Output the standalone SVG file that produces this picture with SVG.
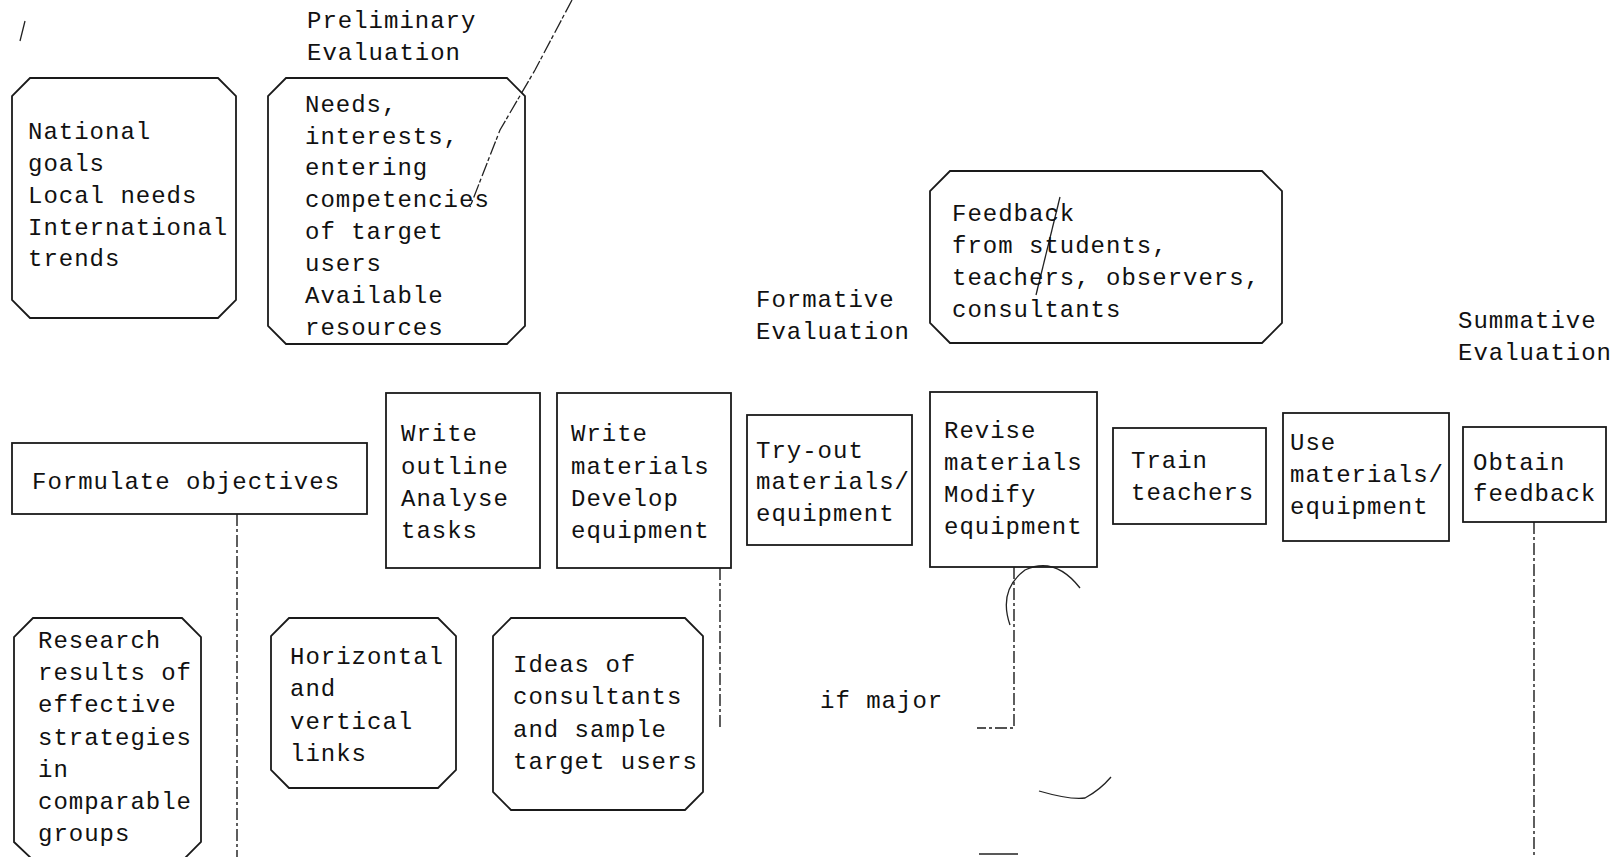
<svg xmlns="http://www.w3.org/2000/svg" width="1621" height="857" viewBox="0 0 1621 857">
<style>
.t{font-family:"Liberation Mono","DejaVu Sans Mono",monospace;font-size:24px;letter-spacing:1px;fill:#111}
.b{fill:none;stroke:#1a1a1a;stroke-width:1.8}
.c{fill:none;stroke:#1a1a1a;stroke-width:1.4;stroke-dasharray:12 3 3 3}
.a{fill:none;stroke:#222;stroke-width:1.3}
</style>
<rect width="1621" height="857" fill="#fff"/>
<g id="artifacts">
<path class="a" d="M25,21 L20,41"/>
<path class="a" d="M572,0 L535,70 L500,130 L470,207" stroke-dasharray="14 3 4 2"/>
<path class="a" d="M1060,197 L1036,295"/>
<path class="a" d="M1010,625 Q998,590 1025,570 Q1055,556 1080,588"/>
<path class="a" d="M1039,791 Q1070,800 1085,798 Q1100,790 1111,777"/>
</g>
<g id="labels">
<text class="t" x="307" y="28">Preliminary</text>
<text class="t" x="307" y="60">Evaluation</text>
<text class="t" x="756" y="307">Formative</text>
<text class="t" x="756" y="339">Evaluation</text>
<text class="t" x="1458" y="328">Summative</text>
<text class="t" x="1458" y="360">Evaluation</text>
<text class="t" x="820" y="708">if major</text>
</g>
<g id="n-national">
<path class="b" d="M30,78 H218 L236,96 V300 L218,318 H30 L12,300 V96 Z"/>
<text class="t" x="28" y="139">National</text>
<text class="t" x="28" y="171">goals</text>
<text class="t" x="28" y="203">Local needs</text>
<text class="t" x="28" y="235">International</text>
<text class="t" x="28" y="266">trends</text>
</g>
<g id="n-preliminary">
<path class="b" d="M286,78 H507 L525,96 V326 L507,344 H286 L268,326 V96 Z"/>
<text class="t" x="305" y="112">Needs,</text>
<text class="t" x="305" y="144">interests,</text>
<text class="t" x="305" y="175">entering</text>
<text class="t" x="305" y="207">competencies</text>
<text class="t" x="305" y="239">of target</text>
<text class="t" x="305" y="271">users</text>
<text class="t" x="305" y="303">Available</text>
<text class="t" x="305" y="335">resources</text>
</g>
<g id="n-feedback">
<path class="b" d="M950,171 H1262 L1282,191 V323 L1262,343 H950 L930,323 V191 Z"/>
<text class="t" x="952" y="221">Feedback</text>
<text class="t" x="952" y="253">from students,</text>
<text class="t" x="952" y="285">teachers, observers,</text>
<text class="t" x="952" y="317">consultants</text>
</g>
<g id="n-formulate">
<rect class="b" x="12" y="443" width="355" height="71"/>
<text class="t" x="32" y="489">Formulate objectives</text>
</g>
<g id="n-outline">
<rect class="b" x="386" y="393" width="154" height="175"/>
<text class="t" x="401" y="441">Write</text>
<text class="t" x="401" y="474">outline</text>
<text class="t" x="401" y="506">Analyse</text>
<text class="t" x="401" y="538">tasks</text>
</g>
<g id="n-write">
<rect class="b" x="557" y="393" width="174" height="175"/>
<text class="t" x="571" y="441">Write</text>
<text class="t" x="571" y="474">materials</text>
<text class="t" x="571" y="506">Develop</text>
<text class="t" x="571" y="538">equipment</text>
</g>
<g id="n-tryout">
<rect class="b" x="747" y="415" width="165" height="130"/>
<text class="t" x="756" y="458">Try-out</text>
<text class="t" x="756" y="489">materials/</text>
<text class="t" x="756" y="521">equipment</text>
</g>
<g id="n-revise">
<rect class="b" x="930" y="392" width="167" height="175"/>
<text class="t" x="944" y="438">Revise</text>
<text class="t" x="944" y="470">materials</text>
<text class="t" x="944" y="502">Modify</text>
<text class="t" x="944" y="534">equipment</text>
</g>
<g id="n-train">
<rect class="b" x="1113" y="428" width="153" height="96"/>
<text class="t" x="1131" y="468">Train</text>
<text class="t" x="1131" y="500">teachers</text>
</g>
<g id="n-use">
<rect class="b" x="1283" y="413" width="166" height="128"/>
<text class="t" x="1290" y="450">Use</text>
<text class="t" x="1290" y="482">materials/</text>
<text class="t" x="1290" y="514">equipment</text>
</g>
<g id="n-obtain">
<rect class="b" x="1463" y="427" width="143" height="95"/>
<text class="t" x="1473" y="470">Obtain</text>
<text class="t" x="1473" y="501">feedback</text>
</g>
<g id="n-research">
<path class="b" d="M33,618 H182 L201,637 V842 L183,860 H33 L14,842 V637 Z"/>
<text class="t" x="38" y="648">Research</text>
<text class="t" x="38" y="680">results of</text>
<text class="t" x="38" y="712">effective</text>
<text class="t" x="38" y="745">strategies</text>
<text class="t" x="38" y="777">in</text>
<text class="t" x="38" y="809">comparable</text>
<text class="t" x="38" y="841">groups</text>
</g>
<g id="n-horizontal">
<path class="b" d="M289,618 H438 L456,636 V770 L438,788 H289 L271,770 V636 Z"/>
<text class="t" x="290" y="664">Horizontal</text>
<text class="t" x="290" y="696">and</text>
<text class="t" x="290" y="729">vertical</text>
<text class="t" x="290" y="761">links</text>
</g>
<g id="n-ideas">
<path class="b" d="M511,618 H685 L703,636 V792 L685,810 H511 L493,792 V636 Z"/>
<text class="t" x="513" y="672">Ideas of</text>
<text class="t" x="513" y="704">consultants</text>
<text class="t" x="513" y="737">and sample</text>
<text class="t" x="513" y="769">target users</text>
</g>
<g id="connectors">
<path class="c" d="M237,514 V857"/>
<path class="c" d="M720,568 V729"/>
<path class="c" d="M1014,567 V728 H977"/>
<path class="c" d="M1534,522 V857"/>
<path class="a" d="M979,854 H1018"/>
</g>
</svg>
